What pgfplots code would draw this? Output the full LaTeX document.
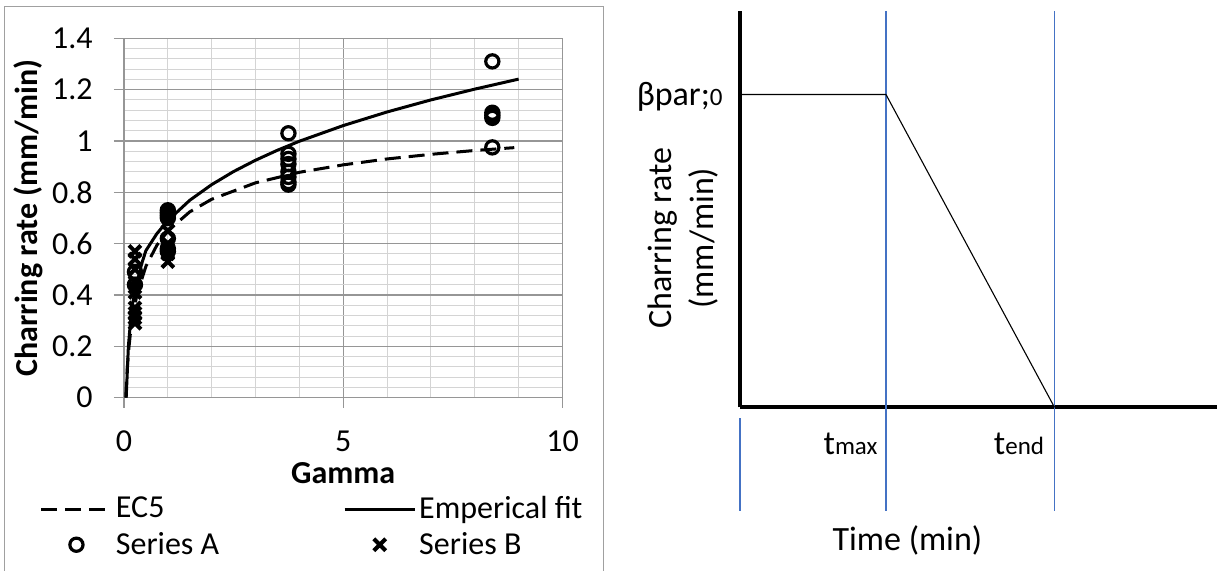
\documentclass[border=0pt]{standalone}
\usepackage{fontspec}
\setmainfont{Carlito}
\usepackage{pgfplots}
\pgfplotsset{compat=1.18}
\definecolor{gridmaj}{RGB}{150,150,150}
\definecolor{gridmin}{RGB}{212,212,212}
\definecolor{frameg}{RGB}{160,160,160}
\definecolor{officeblue}{RGB}{68,114,196}
\newcommand{\fsA}{\fontsize{16}{19}\selectfont}
\newcommand{\fsB}{\fontsize{17}{21}\selectfont}
\newcommand{\fsS}{\fontsize{12.5}{14}\selectfont}
\pgfplotsset{
  lineleg/.style={legend image code/.code={\path[draw=none,fill=none] (0pt,-3pt) rectangle (35pt,3pt);
      \draw[##1] (0pt,0pt) -- (35pt,0pt);}},
  markleg/.style={legend image code/.code={\path[draw=none,fill=none] (0pt,-3pt) rectangle (35pt,3pt);
      \draw[mark repeat=2,mark phase=2,##1] plot coordinates {(0pt,0pt) (17.5pt,0pt) (35pt,0pt)};}},
}

\begin{document}
\begin{tikzpicture}
\useasboundingbox (0,0) rectangle (608.5pt,285.5pt);
\draw[frameg, line width=0.5pt] (2.25pt,-10pt) rectangle (301.5pt,282.15pt);

% left: charring rate vs gamma
\begin{axis}[
    at={(62pt,86.65pt)}, anchor=south west,
    scale only axis, width=219.25pt, height=179.7pt,
    xmin=0, xmax=10, ymin=0, ymax=1.4,
    xtick={0,5,10}, ytick={0,0.2,0.4,0.6,0.8,1,1.2,1.4},
    minor x tick num=4, minor y tick num=4,
    grid=both,
    major grid style={draw=gridmaj, line width=0.6pt},
    minor grid style={draw=gridmin, line width=0.5pt},
    axis line style={draw=gridmaj, line width=0.6pt},
    tick pos=left, tick align=outside,
    major tick length=5pt, minor tick length=0pt,
    tick style={draw=gridmaj, line width=0.6pt},
    /pgf/number format/assume math mode=true,
    tick label style={font=\fsA},
    xticklabel style={anchor=north, inner sep=0pt, yshift=-11.5pt},
    yticklabel style={anchor=east, inner sep=0pt, xshift=-10.5pt},
    xlabel={Gamma}, ylabel={Charring rate (mm/min)},
    label style={font=\bfseries\fsA},
    xlabel style={at={(axis description cs:0.5,-0.21)}, anchor=center},
    ylabel style={at={(axis description cs:-0.219,0.5)}, anchor=center},
    legend columns=2,
    legend cell align=left,
    legend style={draw=none, fill=none, font=\fsA,
        at={(axis description cs:-0.2063,-0.2624)}, anchor=north west,
        nodes={inner sep=0pt},
        row sep=5.3pt,
        /tikz/every odd column/.append style={column sep=1.5pt},
        /tikz/every even column/.append style={column sep=62pt}},
    clip=false,
]
\addplot[black, line width=1.5pt, dash pattern=on 8pt off 4pt, lineleg]
coordinates {
    (0.04,0)(0.06,0.074)(0.08,0.129)(0.1,0.174)(0.15,0.257)(0.2,0.318)
    (0.3,0.405)(0.5,0.512)(0.75,0.594)(1,0.650)(1.5,0.724)(2,0.773)
    (3,0.837)(4,0.878)(5,0.907)(6,0.930)(7,0.948)(8,0.963)(8.9,0.974)
};
\addlegendentry{EC5}
\addplot[black, line width=1.5pt, lineleg]
coordinates {
    (0.05,0)(0.1,0.20)(0.15,0.30)(0.2,0.37)(0.3,0.45)(0.4,0.52)
    (0.5,0.573)(0.75,0.639)(1,0.69)(1.5,0.769)(2,0.83)(2.5,0.881)
    (3,0.925)(3.5,0.964)(4,0.999)(5,1.06)(6,1.113)(7,1.16)(8,1.202)(9,1.241)
};
\addlegendentry{Emperical fit}
\addplot[only marks, mark=o, mark size=3.3pt, line width=1.6pt, black, markleg]
coordinates {
    (0.25,0.49)(0.25,0.44)
    (1,0.73)(1,0.72)(1,0.71)(1,0.70)(1,0.62)(1,0.58)(1,0.57)
    (3.75,1.03)(3.75,0.95)(3.75,0.93)(3.75,0.91)(3.75,0.88)(3.75,0.86)(3.75,0.84)(3.75,0.83)
    (8.4,1.31)(8.4,1.11)(8.4,1.10)(8.4,1.09)(8.4,0.975)
};
\addlegendentry{Series A}
\addplot[only marks, mark=x, mark size=4.2pt, line width=2pt, black, markleg]
coordinates {
    (0.25,0.57)(0.25,0.54)(0.25,0.50)(0.25,0.45)(0.25,0.43)(0.25,0.41)
    (0.25,0.35)(0.25,0.33)(0.25,0.31)(0.25,0.29)
    (1,0.72)(1,0.65)(1,0.60)(1,0.58)(1,0.56)(1,0.53)
};
\addlegendentry{Series B}
\end{axis}

% right: schematic charring rate vs time
\begin{axis}[
    at={(370pt,81.85pt)}, anchor=south west,
    scale only axis, width=238.5pt, height=198.2pt,
    xmin=0, xmax=100, ymin=0, ymax=100,
    axis lines=left,
    axis line style={line width=2pt, -},
    xtick=\empty, ytick=\empty,
    xlabel={Time (min)}, ylabel={Charring rate\\(mm/min)},
    label style={font=\fsB},
    xlabel style={at={(axis description cs:0.351,-0.3348)}, anchor=center},
    ylabel style={at={(axis description cs:-0.1195,0.4266)}, anchor=center, align=center},
    clip=false,
]
\addplot[officeblue, line width=0.85pt] coordinates {(30.6,100)(30.6,-26.14)};
\addplot[officeblue, line width=0.85pt] coordinates {(65.93,100)(65.93,-26.14)};
\addplot[officeblue, line width=0.85pt] coordinates {(0,-2.75)(0,-26.14)};
\addplot[black, line width=0.55pt] coordinates {(0,78.91)(30.6,78.91)(65.93,0)};
\node[font=\fsB, anchor=base east, inner sep=0pt] at (axis cs:-3.56,76.14) {βpar;{\fsS 0}};
\node[font=\fsB, anchor=base east, inner sep=0pt, xshift=-4pt] at (axis cs:30.6,-11.91) {t{\fsS max}};
\node[font=\fsB, anchor=base east, inner sep=0pt, xshift=-5pt] at (axis cs:65.93,-11.91) {t{\fsS end}};
\end{axis}
\end{tikzpicture}
\end{document}
